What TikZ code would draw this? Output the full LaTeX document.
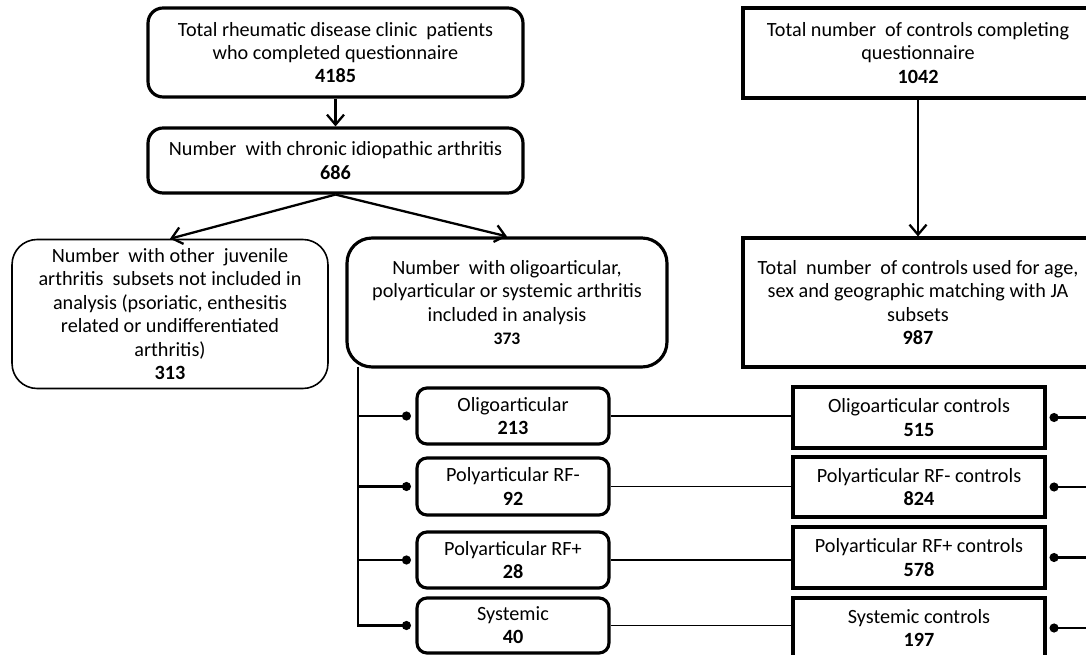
\documentclass[tikz,border=0pt]{standalone}
\usepackage{fontspec}
\setmainfont{Carlito}
\usetikzlibrary{arrows.meta}

\tikzset{
  texto/.style={align=center, inner sep=0pt, text=black, font=\fontsize{11.5}{13.2}\selectfont},
  cajared/.style={texto, draw, line width=1.8pt, rounded corners=0.3cm},
  cajafina/.style={texto, draw, line width=0.9pt, rounded corners=0.5cm},
  cajarecta/.style={texto, draw, line width=1.8pt},
  flecha/.style={line width=1.3pt, -{Straight Barb[length=0.2cm, width=0.34cm]}},
  rama/.style={line width=1.2pt, -{Circle[length=0.18cm]}},
  union/.style={line width=0.7pt}
}

\begin{document}
\begin{tikzpicture}[x=0.02cm, y=-0.02cm]
            \useasboundingbox (0,0) rectangle (1086,655);

            %Pacientes
            \node[cajared, minimum width=7.5cm, minimum height=1.78cm] (tot) at (335.5,52.5)
                {Total rheumatic disease clinic\ \ patients\\who completed questionnaire\\\textbf{4185}};
            \node[cajared, minimum width=7.5cm, minimum height=1.3cm] (cia) at (335.5,160.5)
                {Number\ \ with chronic idiopathic arthritis\\\textbf{686}};
            \node[cajafina, font=\fontsize{11.5}{13.4}\selectfont, minimum width=6.32cm, minimum height=2.98cm] (oth) at (170,314)
                {Number\ \ with other\ \ juvenile\\arthritis\ \ subsets not included in\\analysis (psoriatic, enthesitis\\related or undifferentiated\\arthritis)\\\textbf{313}};
            \node[cajared, font=\fontsize{11.5}{13.4}\selectfont, rounded corners=0.5cm, minimum width=6.4cm, minimum height=2.58cm] (inc) at (507,302.5)
                {Number\ \ with oligoarticular,\\polyarticular or systemic arthritis\\included in analysis\\{\fontsize{10}{13.4}\selectfont\bfseries 373}};

            %Controles
            \node[cajarecta, minimum width=7cm, minimum height=1.8cm] (ctl) at (918,53)
                {Total number\ \ of controls completing\\questionnaire\\\textbf{1042}};
            \node[cajarecta, minimum width=7cm, minimum height=2.58cm] (mat) at (918,302.5)
                {Total\ \ number\ \ of controls used for age,\\sex and geographic matching with JA\\subsets\\\textbf{987}};

            %Subgrupos
            \node[cajared, rounded corners=0.2cm, minimum width=3.84cm, minimum height=1.12cm] (s1) at (513,416)
                {Oligoarticular\\\textbf{213}};
            \node[cajared, rounded corners=0.2cm, minimum width=3.84cm, minimum height=1.14cm] (s2) at (513,486.5)
                {Polyarticular RF-\\\textbf{92}};
            \node[cajared, rounded corners=0.2cm, minimum width=3.84cm, minimum height=1.12cm] (s3) at (513,560)
                {Polyarticular RF+\\\textbf{28}};
            \node[cajared, rounded corners=0.2cm, minimum width=3.84cm, minimum height=1.1cm] (s4) at (513,625.5)
                {Systemic\\\textbf{40}};

            %Controles por subgrupo
            \node[cajarecta, minimum width=5.04cm, minimum height=1.22cm] (c1) at (919,417.5)
                {Oligoarticular controls\\\textbf{515}};
            \node[cajarecta, minimum width=5.04cm, minimum height=1.2cm] (c2) at (919,487)
                {Polyarticular RF- controls\\\textbf{824}};
            \node[cajarecta, minimum width=5.04cm, minimum height=1.22cm] (c3) at (919,557.5)
                {Polyarticular RF+ controls\\\textbf{578}};
            \node[cajarecta, minimum width=5.04cm, minimum height=1.2cm] (c4) at (919,628)
                {Systemic controls\\\textbf{197}};

            %Flechas
            \draw[flecha] (tot) -- (cia);
            \draw[flecha] (cia.south) -- (oth.north);
            \draw[flecha] (cia.south) -- (inc.north);
            \draw[flecha] (ctl) -- (mat);

            %Tronco izq
            \coordinate (tronco) at (358,367);
            \draw[rama] (tronco) |- ([xshift=-0.09cm]s1.west);
            \draw[rama] (tronco) |- ([xshift=-0.09cm]s2.west);
            \draw[rama] (tronco) |- ([xshift=-0.09cm]s3.west);
            \draw[rama] (tronco) |- ([xshift=-0.09cm]s4.west);

            %Lineas centrales
            \draw[union] (s1.east) -- (s1.east -| c1.west);
            \draw[union] (s2.east) -- (s2.east -| c2.west);
            \draw[union] (s3.east) -- (s3.east -| c3.west);
            \draw[union] (s4.east) -- (s4.east -| c4.west);

            %Lineas der
            \coordinate (r1) at ([xshift=1.2cm]c1.east);
            \coordinate (r2) at ([xshift=1.2cm]c2.east);
            \coordinate (r3) at ([xshift=1.2cm]c3.east);
            \coordinate (r4) at ([xshift=1.2cm]c4.east);
            \draw[rama] (r1) -- ([xshift=0.06cm]c1.east);
            \draw[rama] (r2) -- ([xshift=0.06cm]c2.east);
            \draw[rama] (r3) -- ([xshift=0.06cm]c3.east);
            \draw[rama] (r4) -- ([xshift=0.06cm]c4.east);
        \end{tikzpicture}
\end{document}
